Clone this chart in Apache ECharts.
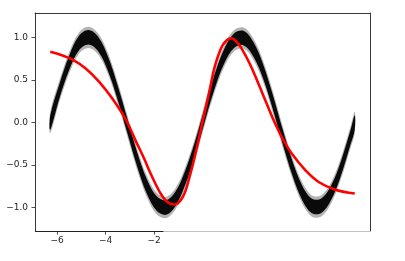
<!DOCTYPE html>
<html>
<head>
<meta charset="utf-8">
<script src="https://cdn.jsdelivr.net/npm/echarts@6/dist/echarts.min.js"></script>
<style>
html,body{margin:0;padding:0;background:#fff;}
#chart{width:405px;height:261px;}
</style>
</head>
<body>
<div id="chart"></div>
<script>
// Noisy scatter band: centre of the cloud
var bandX = [-6.28,-5.9,-5.5,-5.1,-4.7,-4.3,-3.9,-3.5,-3.1,-2.7,-2.3,-1.9,-1.5,-1.1,-0.7,-0.3,0.1,0.5,0.9,1.3,1.7,2.1,2.5,2.9,3.3,3.7,4.1,4.5,4.9,5.3,5.7,6.1,6.28];
var bandY = [0.0,0.37,0.70,0.93,1.0,0.92,0.69,0.35,-0.04,-0.43,-0.75,-0.95,-1.0,-0.89,-0.64,-0.30,0.10,0.48,0.78,0.96,0.99,0.86,0.60,0.24,-0.16,-0.53,-0.82,-0.98,-0.98,-0.83,-0.55,-0.18,0.0];
var bandCore = 0.085;   // half-thickness of the dense core
var bandFringe = 0.125; // half-thickness of the sparse fringe

// Red fitted curve
var fitX = [-6.28,-5.8,-5.38,-4.82,-4.27,-3.72,-3.16,-2.75,-2.40,-2.19,-1.78,-1.45,-1.16,-0.81,-0.535,-0.26,0.02,0.295,0.50,0.78,1.0,1.19,1.40,1.61,1.95,2.30,2.65,2.99,3.34,3.68,4.24,4.79,5.48,6.28];
var fitY = [0.83,0.79,0.74,0.635,0.48,0.28,0.03,-0.22,-0.43,-0.57,-0.81,-0.935,-0.965,-0.875,-0.64,-0.33,0.03,0.38,0.65,0.88,0.965,0.99,0.95,0.87,0.69,0.46,0.22,-0.01,-0.21,-0.365,-0.56,-0.70,-0.79,-0.835];

// Axis ranges and tick labels
var xRange = [-6.91, 6.91];
var yRange = [-1.276, 1.286];
var xTicks = [-6, -4, -2];
var yTicks = [-1.0, -0.5, 0.0, 0.5, 1.0];

function fmt(v, d) {
  var s = Math.abs(v).toFixed(d);
  return (v < -1e-9 ? '\u2212' : '') + s;
}

var chart = echarts.init(document.getElementById('chart'), null, {renderer: 'canvas'});

function bandItem(half, color) {
  return function (params, api) {
    if (params.dataIndex !== 0) return null;
    var up = [], lo = [];
    for (var i = 0; i < bandX.length; i++) {
      up.push(api.coord([bandX[i], bandY[i] + half]));
      lo.push(api.coord([bandX[i], bandY[i] - half]));
    }
    lo.reverse();
    return {
      type: 'polygon',
      shape: {points: up.concat(lo), smooth: 0.35},
      style: {fill: color}
    };
  };
}

var bandData = bandX.map(function (x, i) { return [x, bandY[i]]; });
var fitData = fitX.map(function (x, i) { return [x, fitY[i]]; });

var labelFont = {fontFamily: 'DejaVu Sans', fontSize: 9, color: '#222'};

chart.setOption({
  animation: false,
  backgroundColor: '#fff',
  grid: {left: 35, top: 13, right: 35, bottom: 30, containLabel: false},
  xAxis: [{
    type: 'value', min: xRange[0], max: xRange[1], position: 'bottom',
    axisLine: {show: false, onZero: false},
    axisTick: {show: true, inside: false, length: 3.5, customValues: xTicks, lineStyle: {color: '#222', width: 0.8}},
    axisLabel: Object.assign({show: true, margin: 5, customValues: xTicks, formatter: function (v) { return fmt(v, 0); }}, labelFont),
    splitLine: {show: false}
  }, {
    type: 'value', min: xRange[0], max: xRange[1], position: 'top',
    axisLine: {show: true, onZero: false, lineStyle: {color: '#222', width: 0.9}},
    axisTick: {show: false}, axisLabel: {show: false}, splitLine: {show: false}
  }],
  yAxis: [{
    type: 'value', min: yRange[0], max: yRange[1], position: 'left',
    axisLine: {show: true, onZero: false, lineStyle: {color: '#222', width: 0.9}},
    axisTick: {show: true, inside: false, length: 3.5, customValues: yTicks, lineStyle: {color: '#222', width: 0.8}},
    axisLabel: Object.assign({show: true, margin: 7, customValues: yTicks, formatter: function (v) { return fmt(v, 1); }}, labelFont),
    splitLine: {show: false}
  }, {
    type: 'value', min: yRange[0], max: yRange[1], position: 'right',
    axisLine: {show: true, onZero: false, lineStyle: {color: '#222', width: 0.9}},
    axisTick: {show: false}, axisLabel: {show: false}, splitLine: {show: false}
  }],
  series: [{
    type: 'custom', xAxisIndex: 0, yAxisIndex: 0,
    renderItem: bandItem(bandFringe, 'rgba(0,0,0,0.3)'),
    data: bandData, encode: {x: 0, y: 1}, z: 1, silent: true
  }, {
    type: 'custom', xAxisIndex: 0, yAxisIndex: 0,
    renderItem: bandItem(bandCore, '#0a0a0a'),
    data: bandData, encode: {x: 0, y: 1}, z: 2, silent: true
  }, {
    type: 'line', xAxisIndex: 0, yAxisIndex: 0,
    data: fitData, smooth: 0.4, showSymbol: false, symbol: 'none',
    lineStyle: {color: '#ff0000', width: 2.6}, z: 5, silent: true,
    markLine: {
      silent: true, symbol: 'none', label: {show: false}, animation: false,
      data: [
        [{coord: [xRange[0], yRange[0]], lineStyle: {color: '#222', width: 1.2, type: 'solid'}},
         {coord: [-1.6, yRange[0]]}],
        [{coord: [-1.6, yRange[0]], lineStyle: {color: '#c4c0ca', width: 1, type: 'solid'}},
         {coord: [xRange[1], yRange[0]]}]
      ]
    }
  }]
});
</script>
</body>
</html>
